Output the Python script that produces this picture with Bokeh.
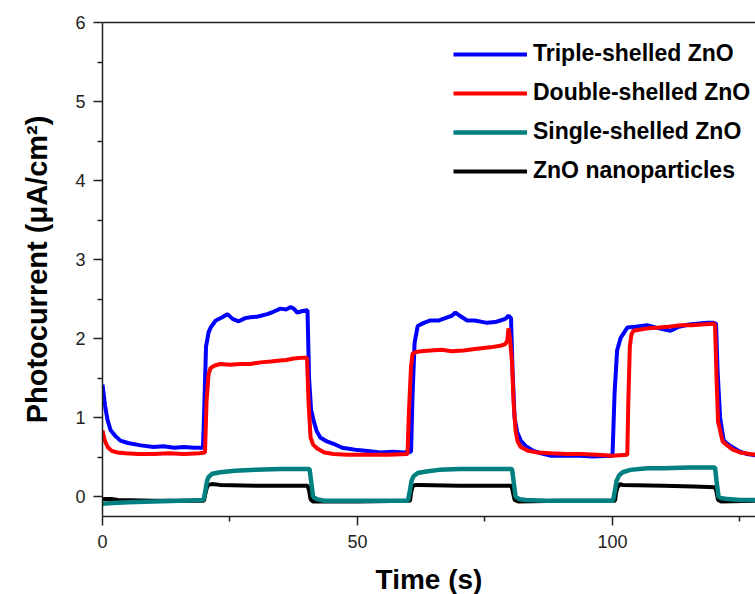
from bokeh.plotting import figure
from bokeh.models import Range1d, LinearAxis, Legend, LegendItem, FixedTicker
from bokeh.embed import file_html
from bokeh.resources import INLINE

# ---- data ----
t_triple = [0, 0.5, 1, 1.6, 2.5, 3.5, 5, 7.5, 10, 12, 14, 16, 18, 19.7,
            19.9, 20.3, 20.8, 21.2, 22.2, 23.5, 24.5, 25.5, 26.7, 28, 29, 30.5, 32.3, 33.5, 34.9, 36, 36.9, 37.5, 38.2, 39.2, 40.2,
            40.5, 40.9, 41.4, 42, 42.7, 44, 45.3, 47, 48, 50, 52, 54.5, 57, 59, 60.5,
            60.8, 61.2, 61.8, 63, 64.3, 66, 67.6, 68.5, 69.2, 70.3, 71.5, 73, 75.4, 77, 78, 79, 79.6, 80.1,
            80.4, 80.8, 81.3, 82, 83, 84.5, 86, 87.8, 90, 93.7, 96, 99.6, 100.0,
            100.4, 100.9, 101.6, 102.9, 104.5, 106.8, 108.5, 110, 111.4, 113, 115, 116.6, 118.5, 119.8, 120.3,
            120.6, 121.1, 121.8, 122.7, 123.7, 125, 126.4, 128.5]
y_triple = [1.42, 1.15, 0.97, 0.84, 0.77, 0.71, 0.68, 0.65, 0.63, 0.64, 0.62, 0.63, 0.62, 0.62,
            1.0, 1.9, 2.08, 2.14, 2.23, 2.27, 2.31, 2.25, 2.22, 2.26, 2.27, 2.28, 2.31, 2.34, 2.38, 2.37, 2.40, 2.38, 2.33, 2.35, 2.36,
            1.5, 1.1, 0.96, 0.83, 0.75, 0.70, 0.67, 0.62, 0.61, 0.59, 0.58, 0.56, 0.57, 0.56, 0.57,
            1.3, 1.95, 2.16, 2.2, 2.23, 2.23, 2.27, 2.29, 2.33, 2.28, 2.23, 2.23, 2.2, 2.21, 2.23, 2.25, 2.29, 2.26,
            1.6, 1.0, 0.82, 0.71, 0.64, 0.58, 0.55, 0.52, 0.52, 0.52, 0.51, 0.52, 0.52,
            1.3, 1.85, 2.01, 2.14, 2.15, 2.17, 2.14, 2.12, 2.1, 2.15, 2.18, 2.19, 2.2, 2.2, 2.19,
            1.6, 1.0, 0.71, 0.66, 0.62, 0.57, 0.54, 0.52]

t_double = [0, 0.4, 1, 1.8, 2.9, 4.5, 7, 10, 13, 16, 19, 20.1,
            20.4, 20.8, 21.2, 22, 23.1, 25, 27, 29, 31, 33, 34.3, 36, 37.5, 39.4, 40.1,
            40.4, 40.8, 41.3, 42.1, 43.5, 45.3, 48, 52, 56, 59.8,
            60.1, 60.5, 60.8, 61.5, 62.5, 64.3, 66.5, 68.5, 70.8, 73, 76, 78, 79.0, 79.4, 79.6, 79.9, 80.3,
            80.6, 81, 81.4, 82, 83.5, 85.3, 88, 91, 93.7, 97, 100, 102.9,
            103.1, 103.4, 103.7, 104.1, 105, 106.8, 109, 111, 113.3, 115.5, 117.5, 119.8, 120.1,
            120.4, 120.7, 121, 121.3, 121.6, 122.5, 123.5, 125, 127, 128.5]
y_double = [0.84, 0.72, 0.63, 0.58, 0.56, 0.55, 0.54, 0.54, 0.55, 0.54, 0.55, 0.56,
            1.2, 1.55, 1.63, 1.66, 1.68, 1.67, 1.68, 1.68, 1.7, 1.71, 1.72, 1.73, 1.75, 1.76, 1.76,
            1.2, 0.75, 0.66, 0.61, 0.56, 0.54, 0.53, 0.53, 0.53, 0.54,
            1.1, 1.65, 1.81, 1.83, 1.84, 1.85, 1.86, 1.84, 1.85, 1.87, 1.89, 1.91, 1.93, 1.98, 2.13, 2.0, 1.7,
            1.2, 0.83, 0.7, 0.63, 0.58, 0.56, 0.55, 0.54, 0.54, 0.53, 0.52, 0.53,
            1.2, 1.9, 2.05, 2.1, 2.11, 2.13, 2.14, 2.15, 2.17, 2.17, 2.18, 2.19, 2.18,
            1.5, 0.95, 0.87, 0.78, 0.7, 0.65, 0.6, 0.56, 0.54, 0.53]

t_single = [0, 2, 5, 10, 15, 19.8,
            20.1, 20.5, 20.8, 21.5, 23.1, 26, 30, 35, 40.6,
            40.9, 41.3, 42, 43.5, 47, 55, 59.9,
            60.2, 60.6, 61, 61.8, 63.5, 66, 70, 75, 80.3,
            80.6, 81, 81.7, 83, 87, 95, 100.1,
            100.4, 100.8, 101.3, 102, 103.5, 106.8, 110, 115, 120.1,
            120.4, 120.8, 121.5, 122.7, 125, 128.5]
y_single = [-0.09, -0.08, -0.07, -0.06, -0.05, -0.04,
            0.05, 0.2, 0.25, 0.29, 0.31, 0.33, 0.34, 0.35, 0.35,
            0.2, 0.0, -0.03, -0.05, -0.05, -0.05, -0.05,
            0.05, 0.2, 0.26, 0.3, 0.32, 0.34, 0.35, 0.35, 0.35,
            0.2, 0.0, -0.03, -0.04, -0.05, -0.05, -0.05,
            0.05, 0.2, 0.27, 0.31, 0.34, 0.36, 0.36, 0.37, 0.37,
            0.2, 0.0, -0.02, -0.03, -0.04, -0.04]

t_nano = [0, 2, 3, 10, 19.9,
          20.1, 20.4, 20.7, 21.5, 23, 30, 40.2,
          40.5, 40.8, 41.2, 42, 50, 60.3,
          60.5, 60.8, 61.3, 62, 70, 80.2,
          80.5, 80.8, 81.5, 90, 100.5,
          100.7, 101, 101.5, 102, 110, 116, 120.1,
          120.4, 120.7, 121.3, 128.5]
y_nano = [-0.03, -0.03, -0.04, -0.05, -0.05,
          0.02, 0.10, 0.15, 0.16, 0.15, 0.14, 0.14,
          0.08, -0.03, -0.06, -0.06, -0.06, -0.05,
          0.05, 0.13, 0.15, 0.15, 0.14, 0.14,
          0.05, -0.04, -0.06, -0.05, -0.05,
          0.05, 0.12, 0.16, 0.15, 0.14, 0.13, 0.12,
          0.06, -0.04, -0.06, -0.05]

labels = ["Triple-shelled ZnO", "Double-shelled ZnO", "Single-shelled ZnO", "ZnO nanoparticles"]
x_major = [0, 50, 100]
x_minor = [25, 75, 125]
y_major = [0, 1, 2, 3, 4, 5, 6]
y_minor = [0.5, 1.5, 2.5, 3.5, 4.5, 5.5]

FONT = "Liberation Sans"
AX = "#222222"

p = figure(frame_width=653, frame_height=494, output_backend="svg", toolbar_location=None,
           x_range=Range1d(0, 128.04), y_range=Range1d(-0.25, 6),
           min_border_left=102, min_border_right=0, min_border_top=22, min_border_bottom=78)
p.outline_line_color = None
p.grid.visible = False
p.background_fill_color = "white"
p.border_fill_color = "white"

r_nano = p.line(t_nano, y_nano, line_color="black", line_width=4)
r_single = p.line(t_single, y_single, line_color="#008080", line_width=4.5)
r_triple = p.line(t_triple, y_triple, line_color="#0000FF", line_width=4)
r_double = p.line(t_double, y_double, line_color="#FF0000", line_width=4)

for ax in (p.xaxis[0], p.yaxis[0]):
    ax.axis_line_color = AX
    ax.axis_line_width = 1.5
    ax.major_tick_line_color = AX
    ax.major_tick_line_width = 1.5
    ax.minor_tick_line_color = AX
    ax.minor_tick_line_width = 1.5
    ax.major_tick_in = 0
    ax.major_tick_out = 9
    ax.minor_tick_in = 0
    ax.minor_tick_out = 5
    ax.major_label_text_font = FONT
    ax.major_label_text_font_size = "18px"
    ax.major_label_text_color = "#222222"
    ax.axis_label_text_font = FONT
    ax.axis_label_text_font_style = "bold"
    ax.axis_label_text_color = "black"

p.xaxis.axis_label_text_font_size = "28px"
p.yaxis.axis_label_text_font_size = "29px"
p.xaxis.ticker = FixedTicker(ticks=x_major, minor_ticks=x_minor)
p.yaxis.ticker = FixedTicker(ticks=y_major, minor_ticks=y_minor)
p.xaxis.axis_label = "Time (s)"
p.yaxis.axis_label = "Photocurrent (μA/cm²)"
p.xaxis.major_label_standoff = 9
p.xaxis.axis_label_standoff = 13
p.yaxis.major_label_standoff = 8
p.yaxis.axis_label_standoff = 19

top = LinearAxis(ticker=FixedTicker(ticks=[]), axis_line_color=AX, axis_line_width=1.5,
                 major_label_text_font_size="0px", major_tick_line_color=None,
                 minor_tick_line_color=None)
p.add_layout(top, "above")

legend = Legend(items=[LegendItem(label=labels[0], renderers=[r_triple]),
                       LegendItem(label=labels[1], renderers=[r_double]),
                       LegendItem(label=labels[2], renderers=[r_single]),
                       LegendItem(label=labels[3], renderers=[r_nano])],
                location=(351, 332), glyph_width=74, glyph_height=26, label_height=26,
                label_standoff=6, spacing=12, padding=0, margin=0,
                border_line_color=None, background_fill_alpha=0,
                label_text_font=FONT, label_text_font_size="23px", label_text_font_style="bold",
                label_text_color="black")
p.add_layout(legend)

open("out.html", "w").write(file_html(p, INLINE))
